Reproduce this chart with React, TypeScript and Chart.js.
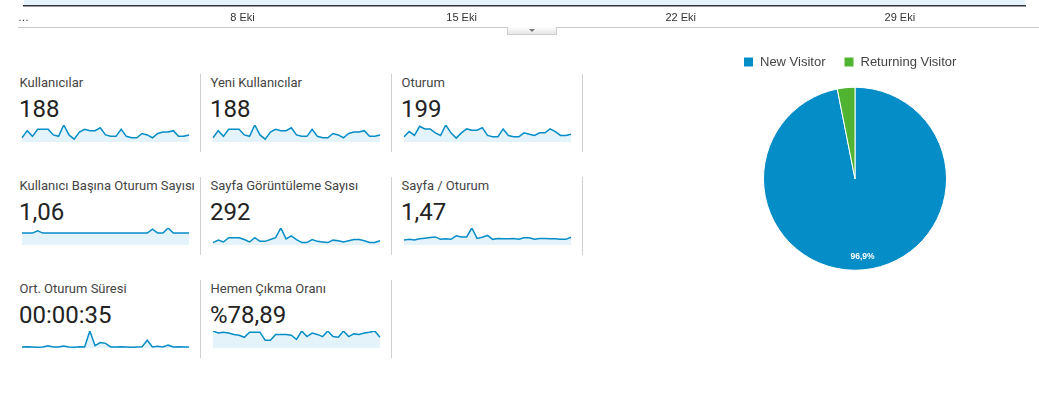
import React, { useEffect, useRef } from "react";
import { Chart, registerables } from "chart.js";

Chart.register(...registerables);

// ---------- DATA ----------
const dateLabels = [
  "1 Eki", "2 Eki", "3 Eki", "4 Eki", "5 Eki", "6 Eki", "7 Eki", "8 Eki", "9 Eki", "10 Eki",
  "11 Eki", "12 Eki", "13 Eki", "14 Eki", "15 Eki", "16 Eki", "17 Eki", "18 Eki", "19 Eki", "20 Eki",
  "21 Eki", "22 Eki", "23 Eki", "24 Eki", "25 Eki", "26 Eki", "27 Eki", "28 Eki", "29 Eki", "30 Eki",
  "31 Eki", "1 Kas", "2 Kas",
];

const axisTickLabels = ["…", "8 Eki", "15 Eki", "22 Eki", "29 Eki"];
const axisTickIndices = [0, 7, 14, 21, 28];

const kullanicilar = [3, 8, 4, 9, 9, 9, 5, 4, 12, 5, 2, 7, 9, 8, 8, 10, 5, 4, 4, 9, 4, 3, 3, 6, 5, 3, 6, 7, 7, 8, 4, 4, 5];
const yeniKullanicilar = [3, 8, 4, 9, 9, 9, 5, 4, 12, 5, 2, 7, 9, 8, 8, 10, 5, 4, 4, 9, 4, 3, 3, 6, 5, 3, 6, 7, 7, 8, 4, 4, 5];
const oturum = [4, 8, 5, 12, 10, 10, 7, 5, 13, 7, 3, 7, 10, 9, 9, 11, 5, 4, 4, 10, 5, 4, 4, 7, 6, 5, 7, 7, 10, 8, 5, 5, 6];
const kullaniciBasinaOturum = [1, 1, 1, 1.2, 1, 1, 1, 1, 1, 1, 1, 1, 1, 1, 1, 1, 1, 1, 1, 1, 1, 1, 1, 1, 1, 1.33, 1, 1, 1.43, 1, 1, 1, 1];
const sayfaGoruntuleme = [4, 8, 5, 12, 12, 12, 9, 5, 12, 6, 6, 9, 12, 28, 10, 15, 9, 4, 4, 9, 6, 5, 4, 8, 7, 5, 7, 9, 9, 7, 4, 4, 7];
const sayfaOturum = [1.0, 1.11, 1.0, 1.23, 1.34, 1.46, 1.58, 1.11, 1.23, 1.11, 1.81, 1.58, 1.58, 3.33, 1.29, 1.52, 1.87, 1.11, 1.29, 1.23, 1.23, 1.29, 1.11, 1.4, 1.4, 1.11, 1.29, 1.29, 1.23, 1.23, 1.11, 1.11, 1.52];
const ortOturumSuresi = [18, 22, 20, 16, 20, 45, 20, 18, 40, 20, 16, 22, 20, 330, 45, 105, 90, 20, 18, 22, 20, 16, 20, 24, 150, 20, 35, 18, 55, 20, 22, 18, 20];
const hemenCikmaOrani = [100, 88, 93, 88, 80, 75, 63, 93, 93, 93, 45, 45, 80, 80, 80, 75, 50, 100, 67, 88, 80, 67, 100, 67, 63, 100, 67, 83, 80, 88, 93, 100, 63];

const metricTitles = [
  "Kullanıcılar", "Yeni Kullanıcılar", "Oturum",
  "Kullanıcı Başına Oturum Sayısı", "Sayfa Görüntüleme Sayısı", "Sayfa / Oturum",
  "Ort. Oturum Süresi", "Hemen Çıkma Oranı",
];
const metricValues = ["188", "188", "199", "1,06", "292", "1,47", "00:00:35", "%78,89"];
const metricSeries = [
  kullanicilar, yeniKullanicilar, oturum,
  kullaniciBasinaOturum, sayfaGoruntuleme, sayfaOturum,
  ortOturumSuresi, hemenCikmaOrani,
];

const visitorTypes = ["New Visitor", "Returning Visitor"];
const visitorShares = [96.9, 3.1];

// ---------- STYLE ----------
const LINE = "#058DC7";
const FILL = "rgba(5,141,199,0.11)";
const PIE_COLORS = ["#058DC7", "#50B432"];
const ROBOTO = "Roboto, 'Noto Sans', sans-serif";
const ARIAL = "'Liberation Sans', Arial, sans-serif";

function Timeline() {
  const ref = useRef<HTMLCanvasElement>(null);
  useEffect(() => {
    const canvas = ref.current!;
    const chart = new Chart(canvas, {
      type: "line",
      data: {
        labels: dateLabels,
        datasets: [
          {
            data: kullanicilar,
            borderColor: LINE,
            backgroundColor: FILL,
            borderWidth: 2,
            pointRadius: 0,
            fill: "origin",
            tension: 0,
          },
        ],
      },
      options: {
        animation: false,
        responsive: false,
        events: [],
        layout: { padding: { left: 23.4, right: 14, top: 0, bottom: 0 } },
        plugins: { legend: { display: false }, tooltip: { enabled: false } },
        scales: {
          x: {
            grid: { display: false, drawTicks: false },
            border: { display: true, color: "#333", width: 1.5 },
            ticks: {
              autoSkip: false,
              maxRotation: 0,
              minRotation: 0,
              padding: 6,
              color: "#333",
              font: { family: ARIAL, size: 11 },
              callback: (_v: any, i: number) => {
                const k = axisTickIndices.indexOf(i);
                return k >= 0 ? axisTickLabels[k] : "";
              },
            },
          },
          y: { display: false, min: 0 },
        },
      },
    });
    canvas.style.top = `${Math.round(5.5 - chart.chartArea.bottom)}px`;
    return () => chart.destroy();
  }, []);
  return (
    <div style={{ position: "absolute", left: 0, top: 0, width: 1039, height: 27, overflow: "hidden" }}>
      <canvas
        ref={ref}
        width={1039}
        height={120}
        style={{ position: "absolute", left: 0, top: -93, width: 1039, height: 120 }}
      />
    </div>
  );
}

function Sparkline({ data, left, top }: { data: number[]; left: number; top: number }) {
  const ref = useRef<HTMLCanvasElement>(null);
  useEffect(() => {
    const chart = new Chart(ref.current!, {
      type: "line",
      data: {
        labels: dateLabels,
        datasets: [
          {
            data,
            borderColor: LINE,
            backgroundColor: FILL,
            borderWidth: 1.5,
            pointRadius: 0,
            fill: "origin",
            tension: 0,
          },
        ],
      },
      options: {
        animation: false,
        responsive: false,
        events: [],
        layout: { padding: { top: 1, bottom: 1, left: 1, right: 1 } },
        plugins: { legend: { display: false }, tooltip: { enabled: false } },
        scales: {
          x: { display: false },
          y: { display: false, min: 0, max: Math.max(...data) },
        },
      },
    });
    return () => chart.destroy();
  }, [data]);
  return (
    <canvas
      ref={ref}
      width={169}
      height={19}
      style={{ position: "absolute", left, top, width: 169, height: 19 }}
    />
  );
}

const pieLabelPlugin = {
  id: "pieLabels",
  afterDatasetsDraw(chart: any) {
    const meta = chart.getDatasetMeta(0);
    const values = chart.data.datasets[0].data as number[];
    const total = values.reduce((a, b) => a + b, 0);
    const ctx = chart.ctx;
    ctx.save();
    ctx.fillStyle = "#ffffff";
    ctx.font = `bold 8.5px ${ARIAL}`;
    ctx.textAlign = "center";
    ctx.textBaseline = "middle";
    meta.data.forEach((arc: any, i: number) => {
      const pct = (values[i] / total) * 100;
      if (pct < 5) return;
      const { x, y, startAngle, endAngle, outerRadius } = arc.getProps(
        ["x", "y", "startAngle", "endAngle", "outerRadius"],
        true
      );
      const mid = (startAngle + endAngle) / 2;
      const d = outerRadius * 0.85;
      ctx.fillText(pct.toFixed(1).replace(".", ",") + "%", x + Math.cos(mid) * d, y + Math.sin(mid) * d);
    });
    ctx.restore();
  },
};

function VisitorPie() {
  const ref = useRef<HTMLCanvasElement>(null);
  useEffect(() => {
    const chart = new Chart(ref.current!, {
      type: "pie",
      data: {
        labels: visitorTypes,
        datasets: [
          {
            data: visitorShares,
            backgroundColor: PIE_COLORS,
            borderColor: "#ffffff",
            borderWidth: 1,
            radius: 91.5,
          } as any,
        ],
      },
      options: {
        animation: false,
        responsive: false,
        events: [],
        plugins: {
          tooltip: { enabled: false },
          legend: {
            position: "top",
            align: "start",
            labels: {
              boxWidth: 10,
              boxHeight: 10,
              padding: 18.5,
              color: "#444",
              font: { family: ARIAL, size: 13 },
            },
          },
        },
      },
      plugins: [pieLabelPlugin],
    });
    return () => chart.destroy();
  }, []);
  return (
    <canvas
      ref={ref}
      width={260}
      height={242}
      style={{ position: "absolute", left: 725, top: 37, width: 260, height: 242 }}
    />
  );
}

export default function App() {
  const cells = metricTitles.map((title, idx) => {
    const row = Math.floor(idx / 3);
    const col = idx % 3;
    const colX = 19.5 + col * 191;
    const dy = row * 103;
    return (
      <React.Fragment key={idx}>
        <div
          style={{
            position: "absolute",
            left: colX,
            top: 75 + dy,
            font: `13px/15px ${ROBOTO}`,
            color: "#444",
            whiteSpace: "nowrap",
          }}
        >
          {title}
        </div>
        <div
          style={{
            position: "absolute",
            left: colX - 0.5,
            top: 94.5 + dy,
            font: `24px/28px ${ROBOTO}`,
            color: "#222",
            whiteSpace: "nowrap",
          }}
        >
          {metricValues[idx]}
        </div>
        <Sparkline data={metricSeries[idx]} left={colX + 1} top={124 + dy} />
        <div
          style={{
            position: "absolute",
            left: Math.floor(colX + 181),
            top: 74 + dy,
            width: 1,
            height: 78,
            background: "#d0d0d0",
          }}
        />
      </React.Fragment>
    );
  });

  return (
    <div
      style={{
        position: "absolute",
        left: 0,
        top: 0,
        width: 1039,
        height: 402,
        background: "#fff",
        overflow: "hidden",
      }}
    >
      <Timeline />
      <div style={{ position: "absolute", left: 18, top: 27, width: 1021, height: 1, background: "#c8c8c8" }} />
      <div
        style={{
          position: "absolute",
          left: 507,
          top: 27,
          width: 50,
          height: 8,
          boxSizing: "border-box",
          borderLeft: "1px solid #ccc",
          borderRight: "1px solid #ccc",
          borderBottom: "1px solid #ccc",
          background: "linear-gradient(#fdfdfd, #e6e6e6)",
        }}
      />
      <div
        style={{
          position: "absolute",
          left: 529,
          top: 29,
          width: 0,
          height: 0,
          borderLeft: "3px solid transparent",
          borderRight: "3px solid transparent",
          borderTop: "3px solid #777",
        }}
      />
      {cells}
      <VisitorPie />
    </div>
  );
}
